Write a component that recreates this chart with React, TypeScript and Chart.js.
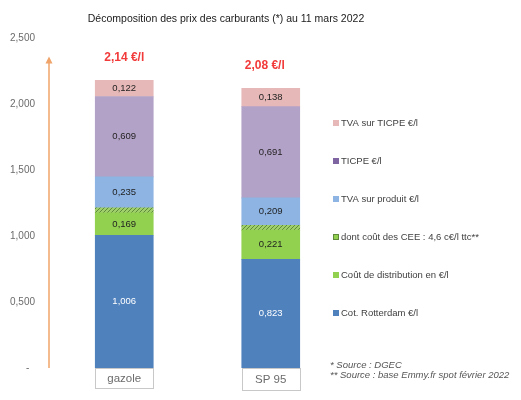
import { useEffect, useRef } from 'react';
import Chart from 'chart.js/auto';

const categories = ['gazole', 'SP 95'];
const rotterdam = [1.006, 0.823];
const distribution = [0.169, 0.221];
const cee = [0.038, 0.036];
const tvaProduit = [0.235, 0.209];
const ticpe = [0.609, 0.691];
const tvaTicpe = [0.122, 0.138];
const totals = ['2,14 €/l', '2,08 €/l'];
const seriesNames = [
  'Cot. Rotterdam €/l',
  'Coût de distribution en €/l',
  'dont coût des CEE : 4,6 c€/l ttc**',
  'TVA sur produit €/l',
  'TICPE €/l',
  'TVA sur TICPE €/l',
];
const footnotes = ['* Source : DGEC', '** Source : base Emmy.fr spot février 2022'];
const title = 'Décomposition des prix des carburants (*) au 11 mars 2022';

const FONT = '"Liberation Sans", Arial, sans-serif';

function hatch(): CanvasPattern | string {
  const c = document.createElement('canvas');
  c.width = 4;
  c.height = 4;
  const g = c.getContext('2d');
  if (!g) return '#92D050';
  g.fillStyle = '#9fcf6a';
  g.fillRect(0, 0, 4, 4);
  g.strokeStyle = '#5e8a3a';
  g.lineWidth = 1;
  g.beginPath();
  g.moveTo(0, 4);
  g.lineTo(4, 0);
  g.moveTo(-1, 1);
  g.lineTo(1, -1);
  g.moveTo(3, 5);
  g.lineTo(5, 3);
  g.stroke();
  return g.createPattern(c, 'repeat') || '#92D050';
}

const fmt = (v: number) => v.toFixed(3).replace('.', ',');

const decorPlugin = {
  id: 'decor',
  afterDatasetsDraw(chart: any) {
    const ctx: CanvasRenderingContext2D = chart.ctx;
    const area = chart.chartArea;
    const y = chart.scales.y;
    ctx.save();

    // segment labels
    chart.data.datasets.forEach((ds: any, i: number) => {
      if (!ds.labelColor) return;
      chart.getDatasetMeta(i).data.forEach((el: any, j: number) => {
        ctx.font = `9.5px ${FONT}`;
        ctx.fillStyle = ds.labelColor;
        ctx.textAlign = 'center';
        ctx.textBaseline = 'middle';
        ctx.fillText(fmt(ds.data[j]), el.x, (el.y + el.base) / 2);
      });
    });

    // totals above bars
    const last = chart.getDatasetMeta(chart.data.datasets.length - 1);
    last.data.forEach((el: any, j: number) => {
      ctx.font = `bold 12px ${FONT}`;
      ctx.fillStyle = '#f23a3a';
      ctx.textAlign = 'center';
      ctx.textBaseline = 'middle';
      ctx.fillText(totals[j], el.x - j * 6, el.y - 23);
    });

    // category boxes
    chart.getDatasetMeta(0).data.forEach((el: any, j: number) => {
      const w = el.width;
      ctx.strokeStyle = '#c8c8c8';
      ctx.lineWidth = 1;
      ctx.strokeRect(Math.round(el.x - w / 2) + 0.5, area.bottom + 0.5, Math.round(w), 20 + j * 2);
      ctx.font = `11.5px ${FONT}`;
      ctx.fillStyle = '#6b6b6b';
      ctx.textAlign = 'center';
      ctx.textBaseline = 'middle';
      ctx.fillText(categories[j], el.x, area.bottom + 11 + j);
    });

    // orange arrow
    const ax = area.left - 2;
    const y0 = y.getPixelForValue(0);
    const y1 = y.getPixelForValue(2.36);
    ctx.strokeStyle = '#f0a46a';
    ctx.fillStyle = '#f0a46a';
    ctx.lineWidth = 1.5;
    ctx.beginPath();
    ctx.moveTo(ax, y0);
    ctx.lineTo(ax, y1 + 5);
    ctx.stroke();
    ctx.beginPath();
    ctx.moveTo(ax, y1);
    ctx.lineTo(ax - 3.5, y1 + 7);
    ctx.lineTo(ax + 3.5, y1 + 7);
    ctx.closePath();
    ctx.fill();

    // title
    ctx.font = `10.5px ${FONT}`;
    ctx.fillStyle = '#1a1a1a';
    ctx.textAlign = 'center';
    ctx.textBaseline = 'middle';
    ctx.fillText(title, 226, 19);

    // legend
    const n = chart.data.datasets.length;
    ctx.font = `9.5px ${FONT}`;
    ctx.textAlign = 'left';
    for (let k = 0; k < n; k++) {
      const ds = chart.data.datasets[n - 1 - k];
      const ly = 123 + k * 38;
      ctx.fillStyle = ds.legendColor || ds.backgroundColor;
      ctx.fillRect(333, ly - 3, 6, 6);
      if (ds.legendBorder) {
        ctx.strokeStyle = ds.legendBorder;
        ctx.lineWidth = 1;
        ctx.strokeRect(333.5, ly - 2.5, 5, 5);
      }
      ctx.fillStyle = '#404040';
      ctx.fillText(ds.label, 341, ly);
    }

    // footnotes
    ctx.font = `italic 9.5px ${FONT}`;
    ctx.fillStyle = '#555555';
    footnotes.forEach((t, k) => ctx.fillText(t, 330, 365 + k * 10));

    ctx.restore();
  },
};

export default function App() {
  const canvasRef = useRef<HTMLCanvasElement | null>(null);
  const chartRef = useRef<Chart | null>(null);

  useEffect(() => {
    document.body.style.margin = '0';
    if (!canvasRef.current) return;
    if (chartRef.current) chartRef.current.destroy();
    const pattern = hatch();

    chartRef.current = new Chart(canvasRef.current, {
      type: 'bar',
      data: {
        labels: categories,
        datasets: [
          { label: seriesNames[0], data: rotterdam, backgroundColor: '#4f81bd', labelColor: '#ffffff' },
          { label: seriesNames[1], data: distribution, backgroundColor: '#92d050', labelColor: '#1f1f1f' },
          { label: seriesNames[2], data: cee, backgroundColor: pattern, legendColor: '#92d050', legendBorder: '#5e8a3a' },
          { label: seriesNames[3], data: tvaProduit, backgroundColor: '#8db4e2', labelColor: '#1f1f1f' },
          { label: seriesNames[4], data: ticpe, backgroundColor: '#b3a2c7', legendColor: '#7f64a2', labelColor: '#1f1f1f' },
          { label: seriesNames[5], data: tvaTicpe, backgroundColor: '#e6b9b8', labelColor: '#1f1f1f' },
        ] as any,
      },
      options: {
        animation: false,
        responsive: true,
        maintainAspectRatio: false,
        layout: { padding: { left: 8, right: 177, top: 38, bottom: 32 } },
        plugins: { legend: { display: false }, tooltip: { enabled: false } },
        datasets: { bar: { barThickness: 58 } },
        scales: {
          x: { stacked: true, display: false },
          y: {
            stacked: true,
            min: 0,
            max: 2.5,
            grid: { display: false, drawTicks: false },
            border: { display: false },
            afterFit: (s: any) => {
              s.width = 43;
            },
            ticks: {
              stepSize: 0.5,
              padding: 16,
              color: '#6b6b6b',
              font: { family: FONT, size: 10 },
              callback: (v: any) => (Number(v) === 0 ? '-  ' : fmt(Number(v))),
            },
          },
        },
      },
      plugins: [decorPlugin],
    } as any);

    return () => {
      if (chartRef.current) {
        chartRef.current.destroy();
        chartRef.current = null;
      }
    };
  }, []);

  return (
    <div style={{ position: 'relative', width: 521, height: 400 }}>
      <canvas ref={canvasRef} />
    </div>
  );
}
